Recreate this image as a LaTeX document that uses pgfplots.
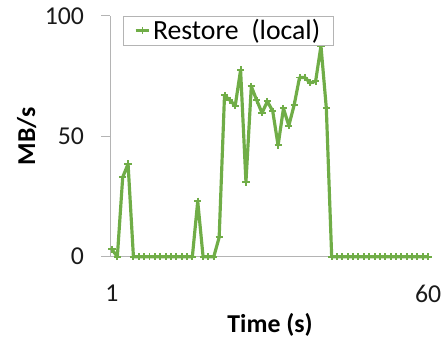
\documentclass[border=0pt]{standalone}
\usepackage{fontspec}
\setmainfont{Carlito}
\usepackage{pgfplots}
\usepackage{pgfplotstable}
\pgfplotsset{compat=1.18}

\definecolor{seriesgreen}{HTML}{70AD47}
\definecolor{axisgray}{HTML}{B4B4B4}
\definecolor{labelgray}{HTML}{1A1A1A}

% Throughput per second during the local restore
\pgfplotstableread{
t v
1 3
2 0
3 33
4 38.5
5 0
6 0
7 0
8 0
9 0
10 0
11 0
12 0
13 0
14 0
15 0
16 0
17 23
18 0
19 0
20 0
21 8
22 67
23 65
24 62.7
25 77.5
26 31
27 70.7
28 65
29 59.7
30 64.5
31 60.4
32 46.2
33 61.6
34 54.4
35 63
36 74.4
37 74.4
38 72.2
39 72.8
40 87.5
41 61.7
42 0
43 0
44 0
45 0
46 0
47 0
48 0
49 0
50 0
51 0
52 0
53 0
54 0
55 0
56 0
57 0
58 0
59 0
60 0
}\restoredata

\begin{document}
\begin{tikzpicture}
\begin{axis}[
  at={(0,0)}, anchor=south west,
  scale only axis, width=323pt, height=243pt,
  xmin=0.63, xmax=60.37, ymin=0, ymax=100,
  axis x line*=bottom, axis y line*=left,
  axis line style={axisgray, line width=1pt, -},
  xtick={1,60},
  ytick={0,50,100},
  tick align=outside, major tick length=9pt,
  xtick style={draw=none},
  ytick style={axisgray, line width=1pt},
  ticklabel style={font=\fontsize{26}{30}\selectfont, text=labelgray,
    /pgf/number format/assume math mode=true},
  xticklabel style={anchor=north, inner sep=0pt, yshift=-19pt},
  yticklabel style={anchor=east, inner sep=0pt, xshift=-17pt},
  every axis x label/.style={at={(axis description cs:0.5,0)}, anchor=center,
    yshift=-69pt, font=\fontsize{26}{30}\selectfont\bfseries},
  every axis y label/.style={at={(axis description cs:0,0.5)}, anchor=center,
    xshift=-84pt, rotate=90, font=\fontsize{26}{30}\selectfont\bfseries},
  xlabel={Time (s)},
  ylabel={MB/s},
  legend style={at={(axis description cs:0.0402,1)}, anchor=north west,
    draw=axisgray, fill=white, font=\fontsize{28}{32}\selectfont,
    inner xsep=11pt, inner ysep=1.5pt},
  legend cell align=left,
  legend image code/.code={%
    \draw[mark repeat=2, mark phase=2] plot coordinates {(0pt,0pt) (7pt,0pt) (14pt,0pt)};},
  clip=false,
]
\addplot[seriesgreen, line width=3.2pt, line join=round,
  mark=+, mark size=3.6pt, mark options={line width=2pt}]
  table[x=t, y=v] {\restoredata};
\addlegendentry{Restore~~(local)}
\end{axis}
\pgfresetboundingbox
\useasboundingbox (-111pt,-83pt) rectangle (335pt,259pt);
\end{tikzpicture}
\end{document}
